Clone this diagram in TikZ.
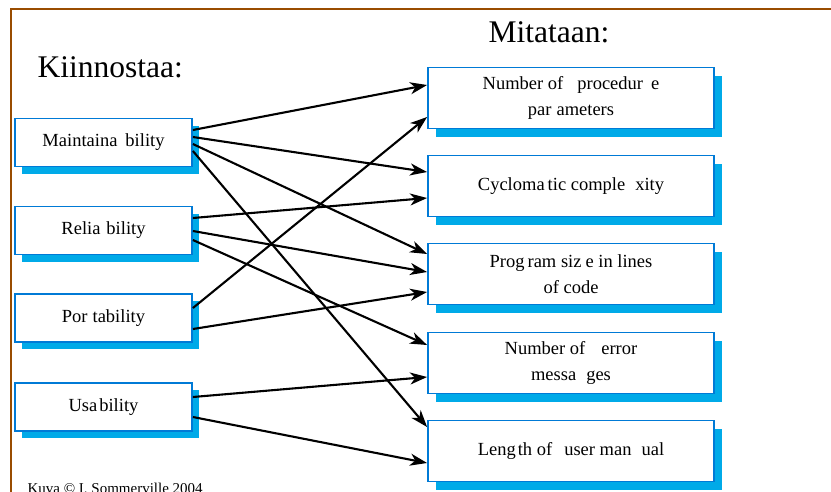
\documentclass[tikz,border=0pt]{standalone}
\usepackage{fontspec}
\setmainfont{Liberation Serif}
\usetikzlibrary{arrows.meta,shadows,calc}
\definecolor{framebrown}{RGB}{153,76,0}
\definecolor{boxblue}{RGB}{0,122,214}
\definecolor{shadowblue}{RGB}{0,170,232}
\begin{document}
\begin{tikzpicture}[x=1pt,y=-1pt,
  boxbase/.style={draw=boxblue, line width=1.8pt, fill=white, inner sep=0pt,
    align=center, font=\fontsize{18.5}{26}\selectfont},
  quality/.style={boxbase, minimum width=177pt, minimum height=48pt,
    general shadow={fill=shadowblue, shadow xshift=7pt, shadow yshift=-7pt}},
  metric/.style={boxbase, minimum width=286pt, minimum height=61pt,
    general shadow={fill=shadowblue, shadow xshift=8pt, shadow yshift=-8pt}},
  heading/.style={anchor=base west, font=\fontsize{31.5}{36}\selectfont},
  link/.style={draw=black, line width=2.1pt,
    -{Stealth[length=17pt,width=12pt,inset=5pt]}}
]
\useasboundingbox (0,0) rectangle (831,491);

% frame
\draw[framebrown, line width=2pt] (11,500) -- (11,9) -- (840,9);

% headings and credit
\node[heading] (kiin) at (34,77) {Kiinnostaa:};
\node[heading] (mit) at (485,42) {Mitataan:};
\node[anchor=base west, font=\fontsize{15}{18}\selectfont] (credit) at (24,493)
  {Kuva © I. Sommerville 2004};

% quality attributes
\node[quality] (maint) at (103.5,142.5) {Maintaina\hspace{8pt}bility};
\node[quality] (reli)  at (103.5,230.5) {Relia\hspace{6pt}bility};
\node[quality] (port)  at (103.5,318)   {Por\hspace{5pt}tability};
\node[quality] (usab)  at (103.5,407)   {Usa\hspace{2pt}bility};

% measurable metrics
\node[metric] (npar)  at (571,98)  {Number of\hspace{14pt}procedur\hspace{8pt}e\\par\hspace{5pt}ameters};
\node[metric] (cyclo) at (571,186) {Cycloma\hspace{3pt}tic comple\hspace{10pt}xity};
\node[metric] (psize) at (571,274) {Prog\hspace{3pt}ram siz\hspace{4pt}e in lines\\of code};
\node[metric] (nerr)  at (571,363) {Number of\hspace{16pt}error\\messa\hspace{10pt}ges};
\node[metric] (ulen)  at (571,451) {Leng\hspace{2pt}th of\hspace{12pt}user man\hspace{10pt}ual};

% relationships
\draw[link] ([yshift=12.5pt]maint.east) -- ([yshift=13pt]npar.west);
\draw[link] ([yshift=5.5pt]maint.east)  -- ([yshift=14pt]cyclo.west);
\draw[link] ([yshift=-1.5pt]maint.east) -- ([yshift=20pt]psize.west);
\draw[link] ([yshift=-8.5pt]maint.east) -- ([yshift=24pt]ulen.west);
\draw[link] ([yshift=12.5pt]reli.east)  -- ([yshift=-12pt]cyclo.west);
\draw[link] ([yshift=-0.5pt]reli.east)  -- ([yshift=2pt]psize.west);
\draw[link] ([yshift=-9.5pt]reli.east)  -- ([yshift=18pt]nerr.west);
\draw[link] ([yshift=10pt]port.east)    -- ([yshift=-19pt]npar.west);
\draw[link] ([yshift=-11pt]port.east)   -- ([yshift=-18pt]psize.west);
\draw[link] ([yshift=10pt]usab.east)    -- ([yshift=-14pt]nerr.west);
\draw[link] ([yshift=-10pt]usab.east)   -- ([yshift=-12pt]ulen.west);
\end{tikzpicture}
\end{document}
